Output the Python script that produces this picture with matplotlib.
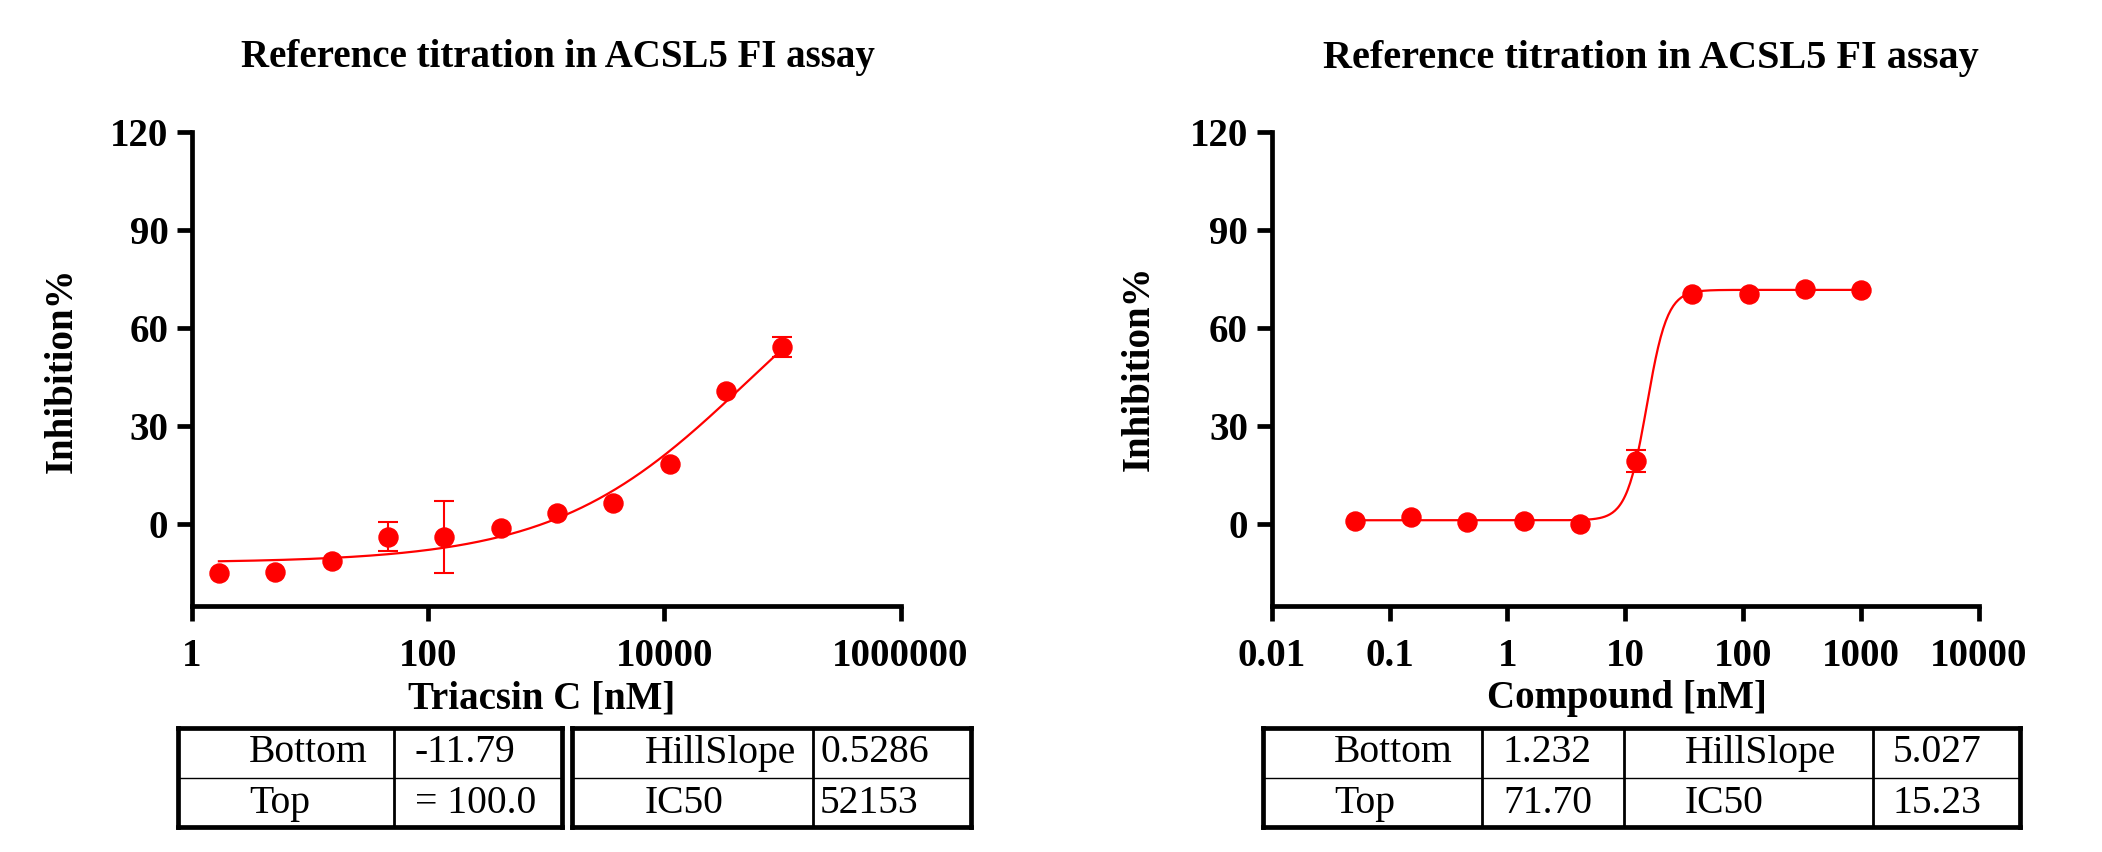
import numpy as np
import matplotlib
matplotlib.use("Agg")
import matplotlib.pyplot as plt
from matplotlib.ticker import FixedLocator, FixedFormatter, NullLocator

# ---------------- data ----------------
title_text = "Reference titration in ACSL5 FI assay"
ylabel_text = "Inhibition%"

triacsin_label = "Triacsin C [nM]"
triacsin_conc = [1.69, 5.08, 15.2, 45.7, 137.2, 411.5, 1235, 3704, 11111, 33333, 100000]
triacsin_inh = [-15.0, -14.7, -11.1, -3.8, -3.9, -1.2, 3.4, 6.4, 18.4, 40.8, 54.1]
triacsin_err = [0, 0, 0, 4.5, 10.9, 0, 0, 0, 0, 0, 3.05]
triacsin_fit = dict(bottom=-11.79, top=100.0, ic50=52153, hill=0.5286)
triacsin_xticks = [1, 100, 10000, 1000000]
triacsin_xticklabels = ["1", "100", "10000", "1000000"]

compound_label = "Compound [nM]"
compound_conc = [0.0508, 0.152, 0.457, 1.372, 4.115, 12.35, 37.04, 111.1, 333.3, 1000]
compound_inh = [1.0, 2.2, 0.7, 1.0, 0.0, 19.3, 70.4, 70.3, 72.1, 71.6]
compound_err = [0, 0, 0, 0, 0, 3.3, 0, 0, 0, 0]
compound_fit = dict(bottom=1.232, top=71.70, ic50=15.23, hill=5.027)
compound_xticks = [0.01, 0.1, 1, 10, 100, 1000, 10000]
compound_xticklabels = ["0.01", "0.1", "1", "10", "100", "1000", "10000"]

yticks = [0, 30, 60, 90, 120]
ylim = (-25, 120)

table_left_a = [["Bottom", "Top"], ["-11.79", "= 100.0"]]
table_left_b = [["HillSlope", "IC50"], ["0.5286", "52153"]]
table_right = [["Bottom", "Top"], ["1.232", "71.70"], ["HillSlope", "IC50"], ["5.027", "15.23"]]

# ---------------- style ----------------
W, H = 2102, 852
DPI = 100
RED = "#FF0000"
plt.rcParams["font.family"] = ["Liberation Serif", "DejaVu Serif"]
plt.rcParams["font.weight"] = "bold"
plt.rcParams["axes.linewidth"] = 3.4

fig = plt.figure(figsize=(W / DPI, H / DPI), dpi=DPI)
fig.patch.set_facecolor("white")


def px_axes(left, right, top, bottom):
    return fig.add_axes([left / W, (H - bottom) / H, (right - left) / W, (bottom - top) / H])


def hill(x, p):
    return p["bottom"] + (p["top"] - p["bottom"]) / (1.0 + (p["ic50"] / x) ** p["hill"])


def draw_panel(ax, conc, inh, err, fit, xlim, xticks, xticklabels):
    conc = np.asarray(conc, float)
    inh = np.asarray(inh, float)
    err = np.asarray(err, float)
    xs = np.logspace(np.log10(conc.min()), np.log10(conc.max()), 400)
    ax.plot(xs, hill(xs, fit), color=RED, lw=1.6, zorder=2)
    m = err > 0
    ax.errorbar(conc[m], inh[m], yerr=err[m], fmt="none", ecolor=RED,
                elinewidth=1.5, capsize=7, capthick=1.5, zorder=3)
    ax.plot(conc, inh, "o", color=RED, ms=13.7, mec=RED, zorder=4)
    ax.set_xscale("log")
    ax.set_xlim(*xlim)
    ax.set_ylim(*ylim)
    ax.xaxis.set_major_locator(FixedLocator(xticks))
    ax.xaxis.set_major_formatter(FixedFormatter(xticklabels))
    ax.xaxis.set_minor_locator(NullLocator())
    ax.yaxis.set_major_locator(FixedLocator(yticks))
    ax.yaxis.set_major_formatter(FixedFormatter([str(t) for t in yticks]))
    for s in ("top", "right"):
        ax.spines[s].set_visible(False)
    for s in ("left", "bottom"):
        ax.spines[s].set_linewidth(3.4)
        ax.spines[s].set_capstyle("projecting")
    ax.tick_params(axis="both", which="major", direction="out", length=11,
                   width=3.4, labelsize=28, color="black")
    ax.tick_params(axis="x", pad=12)
    ax.tick_params(axis="y", pad=6)
    for lab in ax.get_xticklabels() + ax.get_yticklabels():
        lab.set_fontweight("bold")
    ax.set_facecolor("none")


ax1 = px_axes(192, 900.5, 132, 606)
draw_panel(ax1, triacsin_conc, triacsin_inh, triacsin_err, triacsin_fit,
           (1, 1e6), triacsin_xticks, triacsin_xticklabels)
ax2 = px_axes(1271.7, 1979, 132, 606)
draw_panel(ax2, compound_conc, compound_inh, compound_err, compound_fit,
           (0.01, 1e4), compound_xticks, compound_xticklabels)

# ---------------- overlay for titles, labels and tables ----------------
ov = fig.add_axes([0, 0, 1, 1])
ov.set_xlim(0, W)
ov.set_ylim(H, 0)
ov.axis("off")

ov.text(558, 67.3, title_text, ha="center", va="baseline", fontsize=28, fontweight="bold")
ov.text(1650.5, 68.4, title_text, ha="center", va="baseline", fontsize=29, fontweight="bold")

ov.text(72, 370, ylabel_text, rotation=90, rotation_mode="anchor", ha="center",
        va="baseline", fontsize=28, fontweight="bold")
ov.text(1149, 368.5, ylabel_text, rotation=90, rotation_mode="anchor", ha="center",
        va="baseline", fontsize=28, fontweight="bold")

ov.text(541.5, 708, triacsin_label, ha="center", va="baseline", fontsize=28, fontweight="bold")
ov.text(1627, 708, compound_label, ha="center", va="baseline", fontsize=28, fontweight="bold")


def draw_table(x_edges, dividers, cols, text_x, top=727.5, mid=778, bottom=826.5):
    lwo, lwd, lwm = 3.4, 2.0, 1.0
    x0, x1 = x_edges
    ov.hlines([top, bottom], x0, x1, colors="black", lw=lwo, capstyle="projecting")
    ov.hlines([mid], x0, x1, colors="black", lw=lwm)
    ov.vlines([x0, x1], top, bottom, colors="black", lw=lwo, capstyle="projecting")
    if dividers:
        ov.vlines(dividers, top, bottom, colors="black", lw=lwd)
    for col, tx in zip(cols, text_x):
        ov.text(tx, 762.5, col[0], ha="left", va="baseline", fontsize=28.5, fontweight="normal")
        ov.text(tx, 813, col[1], ha="left", va="baseline", fontsize=28.5, fontweight="normal")


draw_table((177.5, 561.5), [394], table_left_a, [249, 415])
draw_table((572, 970.5), [813], table_left_b, [645, 820])
draw_table((1263, 2020), [1482, 1624, 1873], table_right, [1334, 1503, 1685, 1893])

fig.savefig("out.png", dpi=DPI, facecolor="white")
